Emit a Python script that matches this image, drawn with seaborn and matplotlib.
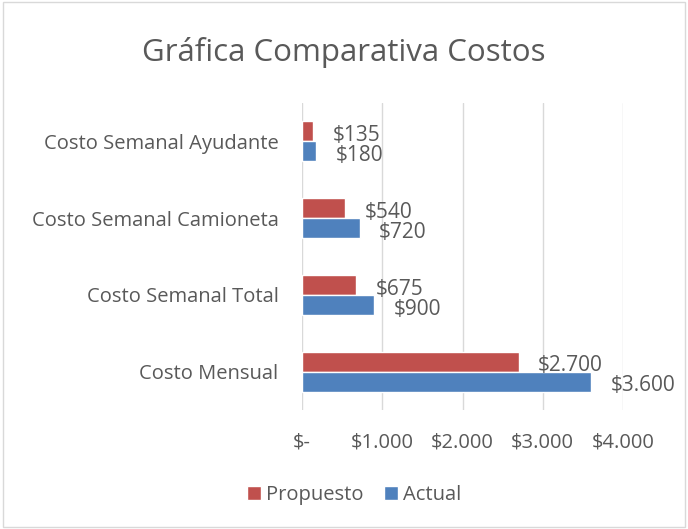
import matplotlib
matplotlib.use("Agg")
import matplotlib.pyplot as plt
import seaborn as sns
import pandas as pd
from matplotlib.ticker import FuncFormatter
from matplotlib.patches import Rectangle

categories = ["Costo Semanal Ayudante", "Costo Semanal Camioneta", "Costo Semanal Total", "Costo Mensual"]
propuesto = [135, 540, 675, 2700]
actual = [180, 720, 900, 3600]
series = ["Propuesto", "Actual"]
colors = ["#C0504D", "#4F81BD"]
ticks = [0, 1000, 2000, 3000, 4000]

df = pd.DataFrame({
    "Categoria": categories * 2,
    "Valor": propuesto + actual,
    "Serie": [series[0]] * len(categories) + [series[1]] * len(categories),
})

sns.set_style("white")
plt.rcParams['font.family'] = ['Open Sans', 'DejaVu Sans']
txt = "#595959"

fig = plt.figure(figsize=(6.88, 5.29), dpi=100)
ax = fig.add_axes([302/688, 1 - 410/529, (623-302)/688, (410-103)/529])

sns.barplot(data=df, y="Categoria", x="Valor", hue="Serie", order=categories,
            hue_order=series, palette=colors, orient="h", width=0.52,
            saturation=1, ax=ax, legend=True)

def fmt(v):
    if v == 0:
        return "$-"
    return "$" + f"{int(v):,}".replace(",", ".")

ax.set_xlim(0, 4000)
ax.set_xticks(ticks)
ax.xaxis.set_major_formatter(FuncFormatter(lambda v, p: fmt(v)))
ax.grid(axis="x", color="#D9D9D9", linewidth=1)
ax.set_axisbelow(True)
for s in ax.spines.values():
    s.set_visible(False)
ax.set_xlabel("")
ax.set_ylabel("")
ax.tick_params(axis="x", colors=txt, labelsize=14.5, length=0, pad=16)
ax.tick_params(axis="y", colors=txt, labelsize=14.5, length=0, pad=17)

for cont in ax.containers:
    labels = [fmt(b.get_width()) for b in cont]
    anns = ax.bar_label(cont, labels=labels, padding=14, color=txt, fontsize=15,
                        label_type="edge", clip_on=False)
    for a in anns:
        dx, dy = a.xyann
        a.xyann = (dx, dy - 3)

leg = ax.get_legend()
handles, labs = ax.get_legend_handles_labels()
leg.remove()
fig.legend(handles, labs, loc="center", bbox_to_anchor=(0.515, 1 - 495/529), ncol=2,
           frameon=False, fontsize=14.5, labelcolor=txt, handlelength=0.7,
           handleheight=0.7, handletextpad=0.25, columnspacing=1.0)

fig.text(0.5, 1 - 53/529, "Gráfica Comparativa Costos", ha="center", va="center",
         fontsize=22.5, color=txt)

fig.patches.append(Rectangle((0.004, 0.004), 0.992, 0.992, transform=fig.transFigure,
                             fill=False, edgecolor="#D9D9D9", linewidth=1))

fig.savefig("out.png", dpi=100)
